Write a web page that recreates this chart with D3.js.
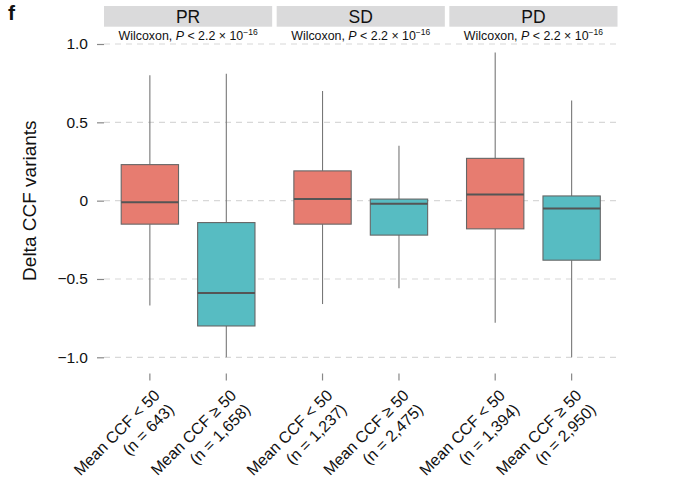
<!DOCTYPE html>
<html>
<head>
<meta charset="utf-8">
<script src="https://cdn.jsdelivr.net/npm/d3@7/dist/d3.min.js"></script>
<style>
  html, body { margin: 0; padding: 0; background: #fff; }
  svg { display: block; font-family: "Liberation Sans", Arial, Helvetica, sans-serif; }
</style>
</head>
<body>
<svg id="chart" width="676" height="498"></svg>
<script>
// ---- data ----
const panels = ["PR", "SD", "PD"];
const groups = ["lt", "ge"];
const groupLabels = ["Mean CCF < 50", "Mean CCF \u2265 50"];
const nLabels = [["(n = 643)", "(n = 1,658)"], ["(n = 1,237)", "(n = 2,475)"], ["(n = 1,394)", "(n = 2,950)"]];
const whiskerHigh = [[0.80, 0.81], [0.70, 0.35], [0.945, 0.64]];
const q3 = [[0.23, -0.14], [0.19, 0.01], [0.27, 0.03]];
const medians = [[-0.01, -0.59], [0.01, -0.02], [0.04, -0.05]];
const q1 = [[-0.15, -0.80], [-0.15, -0.22], [-0.18, -0.38]];
const whiskerLow = [[-0.67, -1.0], [-0.66, -0.56], [-0.78, -1.0]];
const yTicks = [-1, -0.5, 0, 0.5, 1];
const yTickLabels = ["\u22121.0", "\u22120.5", "0", "0.5", "1.0"];
const pText = "Wilcoxon, ";
const pExp = "\u221216";

const colors = ["#E77C70", "#57BCC2"];

const svg = d3.select("#chart");

const panelX = d3.scaleBand().domain(panels).range([104, 617.5]).paddingInner(0.026);
const inner = d3.scalePoint().domain(groups).range([0, panelX.bandwidth()]).padding(0.6);
const boxW = inner.step() * 0.75;
const y = d3.scaleLinear().domain([-1, 1]).range([357.3, 44]);

const panelBottom = 373.5;

// gridlines
svg.append("g").selectAll("line").data(yTicks).join("line")
  .attr("x1", panelX.range()[0]).attr("x2", panelX.range()[1])
  .attr("y1", d => y(d)).attr("y2", d => y(d))
  .attr("stroke", "#d8d8d8").attr("stroke-width", 1.2)
  .attr("stroke-dasharray", "6,5");

// y axis
const yAxis = d3.axisLeft(y).tickValues(yTicks).tickSize(7).tickPadding(9)
  .tickFormat((d, i) => yTickLabels[i]);
const yg = svg.append("g").attr("transform", `translate(${panelX.range()[0]},0)`).call(yAxis);
yg.select(".domain").remove();
yg.selectAll(".tick line").attr("stroke", "#888").attr("stroke-width", 1.2);
yg.selectAll(".tick text").attr("font-size", 15.5).attr("fill", "#111")
  .attr("font-family", "\"Liberation Sans\", Arial, sans-serif");

// y title
svg.append("text")
  .attr("transform", `translate(36,${(y(1) + y(-1)) / 2}) rotate(-90)`)
  .attr("text-anchor", "middle").attr("font-size", 19).attr("fill", "#111")
  .text("Delta CCF variants");

// panel letter
svg.append("text").attr("x", 8).attr("y", 20).attr("font-size", 21)
  .attr("font-weight", "bold").attr("fill", "#111").text("f");

panels.forEach((p, pi) => {
  const g = svg.append("g").attr("transform", `translate(${panelX(p)},0)`);
  // strip
  g.append("rect").attr("x", 0).attr("y", 6).attr("width", panelX.bandwidth()).attr("height", 20.7)
    .attr("fill", "#dadadb");
  g.append("text").attr("x", panelX.bandwidth() / 2).attr("y", 23).attr("text-anchor", "middle")
    .attr("font-size", 17.5).attr("fill", "#111").text(p);
  // wilcoxon
  const t = g.append("text").attr("x", panelX.bandwidth() / 2).attr("y", 40)
    .attr("text-anchor", "middle").attr("font-size", 12.4).attr("fill", "#111");
  t.append("tspan").text(pText);
  t.append("tspan").attr("font-style", "italic").text("P");
  t.append("tspan").text(" < 2.2 \u00d7 10");
  t.append("tspan").attr("font-size", 8.5).attr("dy", -5).text(pExp);

  groups.forEach((gr, gi) => {
    const cx = inner(gr);
    // whiskers
    g.append("line").attr("x1", cx).attr("x2", cx)
      .attr("y1", y(whiskerHigh[pi][gi])).attr("y2", y(q3[pi][gi]))
      .attr("stroke", "#777").attr("stroke-width", 1.1);
    g.append("line").attr("x1", cx).attr("x2", cx)
      .attr("y1", y(q1[pi][gi])).attr("y2", y(whiskerLow[pi][gi]))
      .attr("stroke", "#777").attr("stroke-width", 1.1);
    // box
    g.append("rect").attr("x", cx - boxW / 2).attr("y", y(q3[pi][gi]))
      .attr("width", boxW).attr("height", y(q1[pi][gi]) - y(q3[pi][gi]))
      .attr("fill", colors[gi]).attr("stroke", "#666").attr("stroke-width", 1.1);
    // median
    g.append("line").attr("x1", cx - boxW / 2).attr("x2", cx + boxW / 2)
      .attr("y1", y(medians[pi][gi])).attr("y2", y(medians[pi][gi]))
      .attr("stroke", "#555").attr("stroke-width", 2);
    // x tick
    g.append("line").attr("x1", cx).attr("x2", cx).attr("y1", panelBottom).attr("y2", panelBottom + 7)
      .attr("stroke", "#888").attr("stroke-width", 1.2);
    // x label
    const lab = g.append("text")
      .attr("transform", `translate(${cx + 3},${panelBottom + 15}) rotate(-45)`)
      .attr("text-anchor", "end").attr("font-size", 16).attr("fill", "#111");
    lab.append("tspan").attr("x", 0).attr("dy", "0.7em").text(groupLabels[gi]);
    lab.append("tspan").attr("x", 0).attr("dy", "1.25em").text(nLabels[pi][gi]);
  });
});
</script>
</body>
</html>
